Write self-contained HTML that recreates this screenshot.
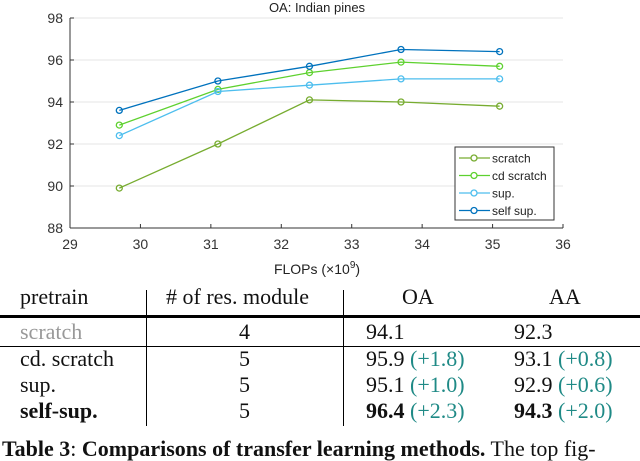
<!DOCTYPE html>
<html><head><meta charset="utf-8"><style>
body{margin:0;width:640px;height:458px;overflow:hidden;background:#fff;font-family:"Liberation Serif",serif;}
.t{position:absolute;font-size:22px;line-height:22px;white-space:nowrap;color:#111;}
.g{color:#1f8a86}
</style></head><body>
<svg id="chart" width="640" height="290" style="position:absolute;left:0;top:0" font-family="Liberation Sans, sans-serif"></svg>
<div>
<div class="t" style="left:20px;top:286px">pretrain</div>
<div class="t" style="left:166px;top:286px">#&nbsp;of res. module</div>
<div class="t" style="left:402px;top:286px">OA</div>
<div class="t" style="left:549px;top:286px">AA</div>
<div style="position:absolute;left:0;top:315px;width:640px;height:3px;background:#000"></div>
<div style="position:absolute;left:0;top:346px;width:640px;height:1px;background:#000"></div>
<div style="position:absolute;left:146px;top:290px;width:1px;height:136px;background:#000"></div>
<div style="position:absolute;left:343px;top:290px;width:1px;height:136px;background:#000"></div>
<div class="t" style="left:20px;top:321px;color:#999">scratch</div>
<div class="t" style="left:239px;top:321px">4</div>
<div class="t" style="left:366px;top:321px">94.1</div>
<div class="t" style="left:514px;top:321px">92.3</div>
<div class="t" style="left:20px;top:348px">cd. scratch</div>
<div class="t" style="left:239px;top:348px">5</div>
<div class="t" style="left:366px;top:348px">95.9 <span class="g">(+1.8)</span></div>
<div class="t" style="left:514px;top:348px">93.1 <span class="g">(+0.8)</span></div>
<div class="t" style="left:20px;top:374px">sup.</div>
<div class="t" style="left:239px;top:374px">5</div>
<div class="t" style="left:366px;top:374px">95.1 <span class="g">(+1.0)</span></div>
<div class="t" style="left:514px;top:374px">92.9 <span class="g">(+0.6)</span></div>
<div class="t" style="left:20px;top:400px;font-weight:bold">self-sup.</div>
<div class="t" style="left:239px;top:400px">5</div>
<div class="t" style="left:366px;top:400px"><b>96.4</b> <span class="g">(+2.3)</span></div>
<div class="t" style="left:514px;top:400px"><b>94.3</b> <span class="g">(+2.0)</span></div>
</div>
<div class="t" style="left:2px;top:438px"><b>Table 3</b>: <b>Comparisons of transfer learning methods.</b> The top fig-</div>
<script>
const xValues=[29.7,31.1,32.4,33.7,35.1];
const seriesNames=["scratch","cd scratch","sup.","self sup."];
const scratchVals=[89.9,92.0,94.1,94.0,93.8];
const cdScratchVals=[92.9,94.6,95.4,95.9,95.7];
const supVals=[92.4,94.5,94.8,95.1,95.1];
const selfSupVals=[93.6,95.0,95.7,96.5,96.4];
const xTicks=[29,30,31,32,33,34,35,36];
const yTicks=[88,90,92,94,96,98];
const colors=["#77ac30","#5ed12f","#4dbeee","#0072bd"];
const NS="http://www.w3.org/2000/svg";
const svg=document.getElementById('chart');
const X=v=>70+(v-29)*(563-70)/7;
const Y=v=>228-(v-88)*(228-18)/10;
function mk(tag,a,parent){const e=document.createElementNS(NS,tag);for(const k in a)e.setAttribute(k,a[k]);(parent||svg).appendChild(e);return e;}
const t=mk('text',{x:317,y:12,'text-anchor':'middle','font-size':13,fill:'#222'});t.textContent='OA: Indian pines';


yTicks.forEach(v=>{
 const g=mk('line',{x1:70,x2:563,y1:Y(v),y2:Y(v),stroke:'#e6e6e6'});
 
 
 mk('line',{x1:70,x2:74,y1:Y(v),y2:Y(v),stroke:'#333'});
 const l=mk('text',{x:63,y:Y(v)+5,'text-anchor':'end','font-size':14,fill:'#333'});l.textContent=v;
 
 
});
xTicks.forEach(v=>{
 mk('line',{x1:X(v),x2:X(v),y1:228,y2:224,stroke:'#333'});
 const l=mk('text',{x:X(v),y:249,'text-anchor':'middle','font-size':14,fill:'#333'});l.textContent=v;
 
 
});
mk('line',{x1:70,x2:563,y1:228,y2:228,stroke:'#333'});
mk('line',{x1:70,x2:70,y1:18,y2:228,stroke:'#333'});
const xl=mk('text',{x:317,y:274,'text-anchor':'middle','font-size':14,fill:'#222'});
xl.innerHTML='FLOPs (×10<tspan dy="-6" font-size="10">9</tspan><tspan dy="6">)</tspan>';


[scratchVals,cdScratchVals,supVals,selfSupVals].forEach((vals,i)=>{
 const p=mk('polyline',{points:vals.map((v,j)=>X(xValues[j])+','+Y(v)).join(' '),fill:'none',stroke:colors[i],'stroke-width':1.3});
 
 
 vals.forEach((v,j)=>{
  const c=mk('circle',{cx:X(xValues[j]),cy:Y(v),r:3,fill:'none',stroke:colors[i],'stroke-width':1.3});
  
  
 });
});
const lg=mk('rect',{x:455,y:147,width:99,height:73,fill:'#fff',stroke:'#333'});


seriesNames.forEach((n,i)=>{
 const y=158+i*17.5;
 mk('line',{x1:459,x2:490,y1:y,y2:y,stroke:colors[i],'stroke-width':1.3});
 mk('circle',{cx:474,cy:y,r:3,fill:'#fff',stroke:colors[i],'stroke-width':1.3});
 const l=mk('text',{x:492,y:y+4.5,'font-size':12,fill:'#222'});l.textContent=n;
 
 
});
</script>
</body></html>
